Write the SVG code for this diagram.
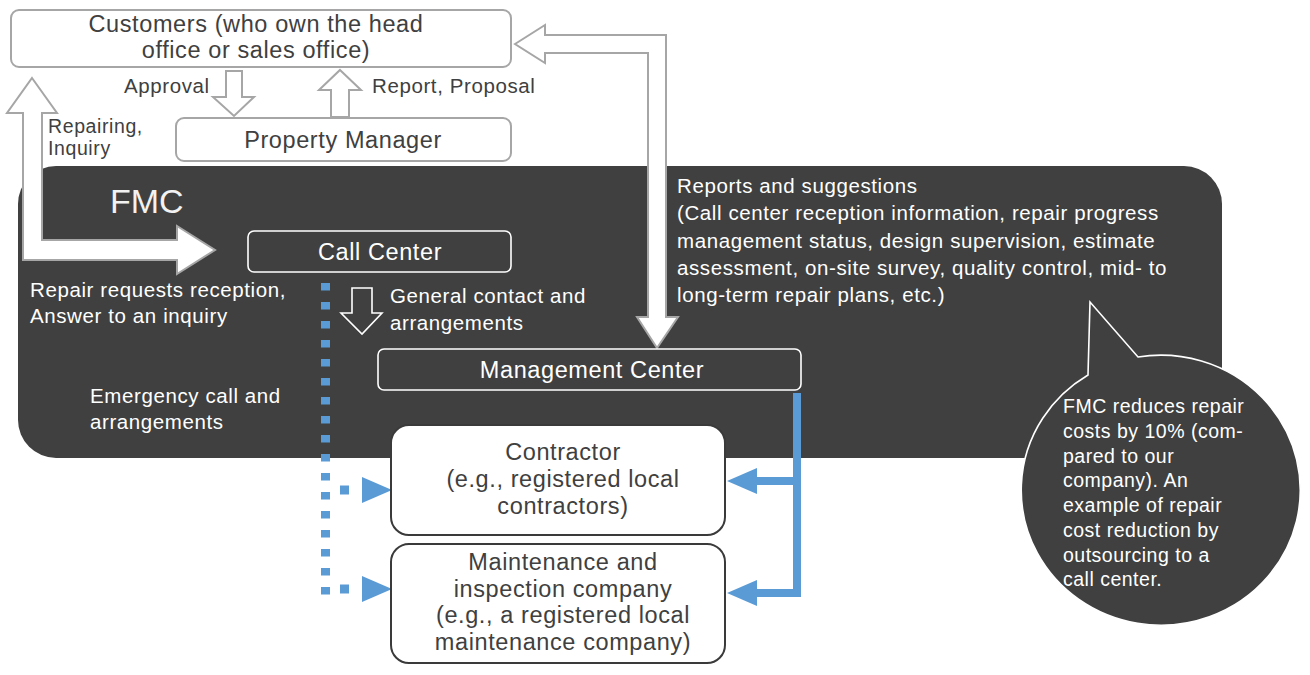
<svg xmlns="http://www.w3.org/2000/svg" width="1310" height="675" viewBox="0 0 1310 675">
<defs>
<style>
text{font-family:"Liberation Sans",Arial,sans-serif}
.bx{font-size:23.5px;letter-spacing:0.6px;text-anchor:middle}
.sm{font-size:20.5px;letter-spacing:0.6px}
.gt{fill:#404040}
.wt{fill:#ffffff}
.top{fill:#ffffff;stroke:#a6a6a6;stroke-width:2}
.dk{fill:#404040;stroke:#ffffff;stroke-width:1.6}
.sub{fill:#ffffff;stroke:#3a3a3a;stroke-width:2}
.harrow{fill:#ffffff;stroke:#a6a6a6;stroke-width:2;stroke-linejoin:miter}
.blue{fill:none;stroke:#5b9bd5}
</style>
<marker id="bh" markerUnits="userSpaceOnUse" markerWidth="32" markerHeight="30" refX="0" refY="14" orient="auto" viewBox="0 0 32 30">
<path d="M0,1 L30,14 L0,27 Z" fill="#5b9bd5"/>
</marker>
</defs>
<rect width="1310" height="675" fill="#ffffff"/>

<g id="fmc">
<rect x="18" y="166" width="1204" height="292" rx="38" ry="38" fill="#404040"/>
<text x="110" y="213" style="font-size:34px" fill="#f2f2f2">FMC</text>
</g>

<g id="customers">
<rect class="top" x="11" y="10" width="500" height="57" rx="8"/>
<text class="bx gt" x="256" y="32">Customers (who own the head</text>
<text class="bx gt" x="256" y="58">office or sales office)</text>
</g>

<g id="property-manager">
<rect class="top" x="176" y="118" width="335" height="43" rx="8"/>
<text class="bx gt" x="343" y="148">Property Manager</text>
</g>

<g id="connectors">
<path class="harrow" d="M226,71 L242,71 L242,97 L254,97 L234,116 L213,97 L226,97 Z"/>
<path class="harrow" d="M340,70 L361,90 L349,90 L349,117 L331,117 L331,90 L319,90 Z"/>
<path class="harrow" d="M32,78 L57,113 L42,113 L42,240 L177,240 L177,226 L215,250 L177,274 L177,260 L23,260 L23,113 L7,113 Z"/>
<path class="harrow" d="M515,44 L545,25 L545,35 L666,35 L666,317 L678,317 L657,348 L637,317 L648,317 L648,53 L545,53 L545,63 Z"/>
<path d="M352,288 L372,288 L372,313 L382,313 L362,334 L341,313 L352,313 Z" fill="none" stroke="#ffffff" stroke-width="1.6"/>
<path class="blue" d="M325.5,283 V595" stroke-width="9" stroke-dasharray="7.5 11.5"/>
<path class="blue" d="M340,490 H362" stroke-width="9" stroke-dasharray="9 40" marker-end="url(#bh)"/>
<path class="blue" d="M340,589 H362" stroke-width="9" stroke-dasharray="9 40" marker-end="url(#bh)"/>
<path class="blue" d="M797,393 V593 H757" stroke-width="8" stroke-linejoin="miter" marker-end="url(#bh)"/>
<path class="blue" d="M797,481 H757" stroke-width="8" marker-end="url(#bh)"/>
</g>

<g id="labels">
<text class="sm gt" x="124" y="93">Approval</text>
<text class="sm gt" x="372" y="93">Report, Proposal</text>
<text class="gt" x="48" y="133" style="font-size:19.5px;letter-spacing:0.6px">Repairing,</text>
<text class="gt" x="48" y="155" style="font-size:19.5px;letter-spacing:0.6px">Inquiry</text>
<text class="sm wt" x="30" y="297">Repair requests reception,</text>
<text class="sm wt" x="30" y="323">Answer to an inquiry</text>
<text class="sm wt" x="390" y="303">General contact and</text>
<text class="sm wt" x="390" y="330">arrangements</text>
<text class="sm wt" x="90" y="403">Emergency call and</text>
<text class="sm wt" x="90" y="429">arrangements</text>
<text class="sm wt" x="677" y="193">Reports and suggestions</text>
<text class="sm wt" x="677" y="220">(Call center reception information, repair progress</text>
<text class="sm wt" x="677" y="248">management status, design supervision, estimate</text>
<text class="sm wt" x="677" y="275">assessment, on-site survey, quality control, mid- to</text>
<text class="sm wt" x="677" y="302">long-term repair plans, etc.)</text>
</g>

<g id="call-center">
<rect class="dk" x="248" y="231" width="263" height="41" rx="6"/>
<text class="bx wt" x="380" y="260">Call Center</text>
</g>

<g id="management-center">
<rect class="dk" x="378" y="349" width="423" height="41" rx="6"/>
<text class="bx wt" x="592" y="378">Management Center</text>
</g>

<g id="contractor">
<rect class="sub" x="391" y="425" width="334" height="110" rx="18"/>
<text class="bx gt" x="563" y="460">Contractor</text>
<text class="bx gt" x="563" y="487">(e.g., registered local</text>
<text class="bx gt" x="563" y="514">contractors)</text>
</g>

<g id="maintenance">
<rect class="sub" x="391" y="544" width="334" height="119" rx="18"/>
<text class="bx gt" x="563" y="570">Maintenance and</text>
<text class="bx gt" x="563" y="597">inspection company</text>
<text class="bx gt" x="563" y="623">(e.g., a registered local</text>
<text class="bx gt" x="563" y="650">maintenance company)</text>
</g>

<g id="bubble">
<path d="M1088,375 L1090,302 L1138,357 A139.5 135 0 1 1 1088,375 Z" fill="#404040" stroke="#ffffff" stroke-width="1.6" stroke-linejoin="miter"/>
<g style="font-size:19.5px;letter-spacing:0.5px" fill="#ffffff">
<text x="1063" y="413">FMC reduces repair</text>
<text x="1063" y="438">costs by 10% (com-</text>
<text x="1063" y="463">pared to our</text>
<text x="1063" y="487">company). An</text>
<text x="1063" y="512">example of repair</text>
<text x="1063" y="537">cost reduction by</text>
<text x="1063" y="562">outsourcing to a</text>
<text x="1063" y="586">call center.</text>
</g>
</g>
</svg>
